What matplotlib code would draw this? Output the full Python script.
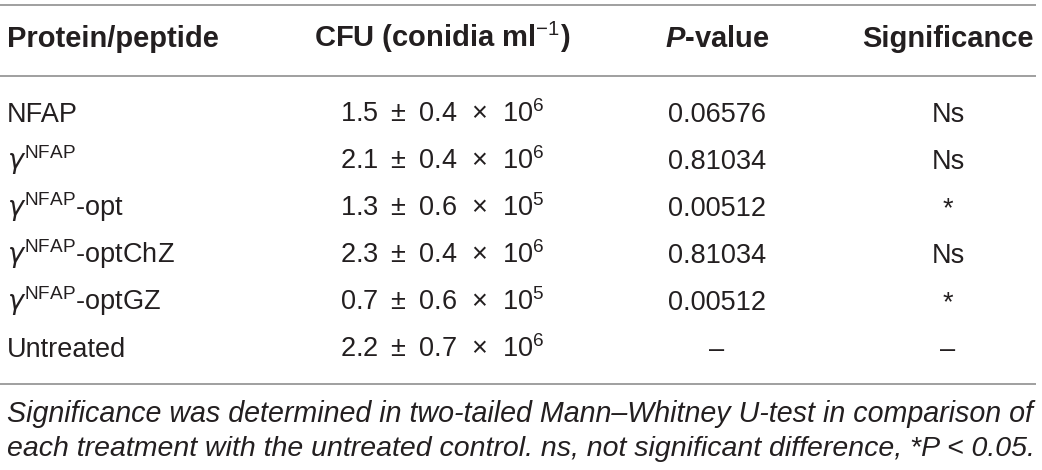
import matplotlib
matplotlib.use("Agg")
import matplotlib.pyplot as plt

plt.rcParams["font.family"] = ["Liberation Sans", "DejaVu Sans"]
plt.rcParams["mathtext.fontset"] = "custom"
plt.rcParams["mathtext.rm"] = "Liberation Sans"
plt.rcParams["mathtext.it"] = "DejaVu Sans:italic"
plt.rcParams["mathtext.bf"] = "Liberation Sans:bold"
plt.rcParams["mathtext.bfit"] = "Liberation Sans:bold:italic"

# Table content
headers = [
    "Protein/peptide",
    r"CFU (conidia ml$^{\mathrm{-1}}$)",
    r"$\mathbfit{P}$-value",
    "Significance",
]
proteins = [
    "NFAP",
    r"$\gamma^{\mathrm{NFAP}}$",
    r"$\gamma^{\mathrm{NFAP}}$-opt",
    r"$\gamma^{\mathrm{NFAP}}$-optChZ",
    r"$\gamma^{\mathrm{NFAP}}$-optGZ",
    "Untreated",
]
cfu_mean = ["1.5", "2.1", "1.3", "2.3", "0.7", "2.2"]
cfu_sd = ["0.4", "0.4", "0.6", "0.4", "0.6", "0.7"]
cfu_exp = ["6", "6", "5", "6", "5", "6"]
p_values = ["0.06576", "0.81034", "0.00512", "0.81034", "0.00512", "–"]
significance = ["Ns", "Ns", "*", "Ns", "*", "–"]
footnote = [
    "Significance was determined in two-tailed Mann–Whitney U-test in comparison of",
    "each treatment with the untreated control. ns, not significant difference, *P < 0.05.",
]

W, H = 1042, 470
TEXT = "#231f20"
RULE = "#8f8f8f"

fig = plt.figure(figsize=(W / 100, H / 100), dpi=100)
ax = fig.add_axes([0, 0, 1, 1])
ax.set_xlim(0, W)
ax.set_ylim(H, 0)
ax.axis("off")

# column anchors (x, alignment)
cols = [(7, "left"), (442, "center"), (717, "center"), (948, "center")]

# rules
for y in (5, 76, 384):
    ax.plot([0, 1036], [y, y], color=RULE, lw=1.2, solid_capstyle="butt")

# header
for (x, ha), h in zip(cols, headers):
    ax.text(x, 47, h, ha=ha, va="baseline", fontsize=21,
            fontweight="bold", color=TEXT)

# body rows
for i in range(len(proteins)):
    yb = 122 + 47 * i
    cfu = f"{cfu_mean[i]} \u2009±\u2009 {cfu_sd[i]}  ×  10" + "$^{" + cfu_exp[i] + "}$"
    row = [proteins[i], cfu, p_values[i], significance[i]]
    for (x, ha), val in zip(cols, row):
        ax.text(x, yb, val, ha=ha, va="baseline", fontsize=19.5, color=TEXT)

# footnote, stretched to the table width like the justified original
fig.canvas.draw()
renderer = fig.canvas.get_renderer()
for line, yb in zip(footnote, (422, 456)):
    t = ax.text(7, yb, line, ha="left", va="baseline", fontsize=19,
                style="italic", color=TEXT)
    w = t.get_window_extent(renderer).width
    t.set_fontsize(19 * 1027 / w)

fig.savefig("out.png", dpi=100)
